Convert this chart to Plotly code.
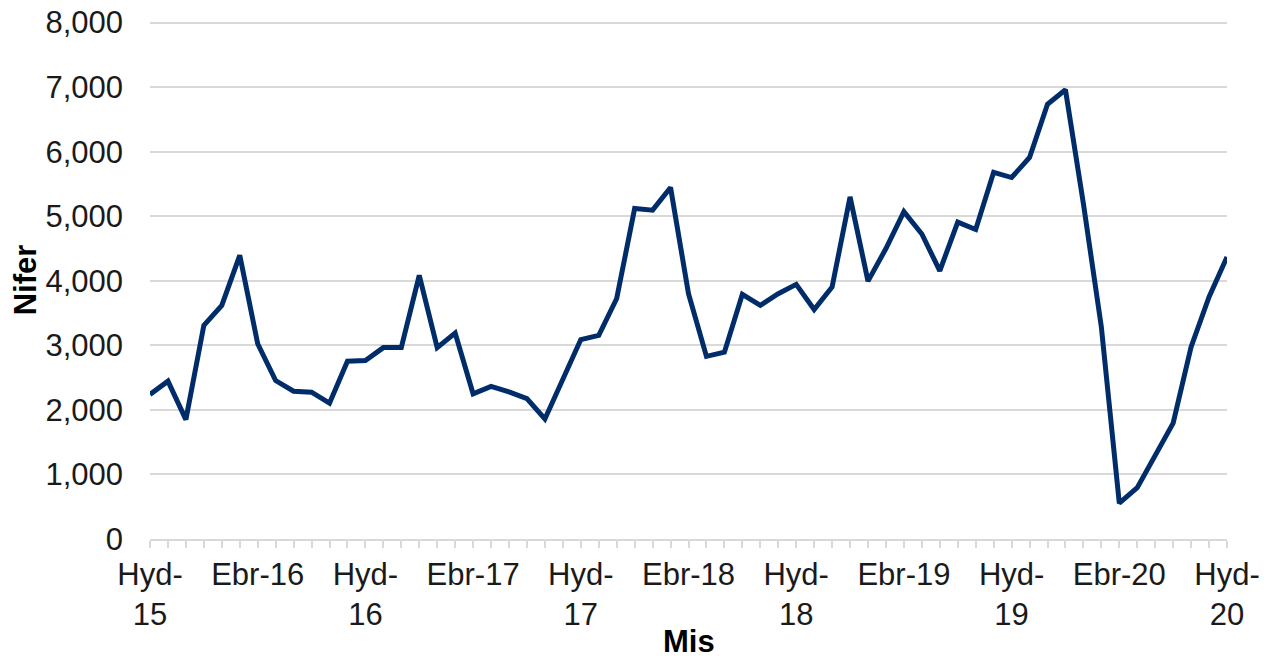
import plotly.graph_objects as go

# Monthly counts, Oct 2015 (Hyd-15) to Oct 2020 (Hyd-20)
months = [
    "Hyd-15", "Tach-15", "Rhag-15", "Ion-16", "Chwe-16", "Maw-16", "Ebr-16", "Mai-16", "Meh-16", "Gor-16", "Awst-16", "Medi-16",
    "Hyd-16", "Tach-16", "Rhag-16", "Ion-17", "Chwe-17", "Maw-17", "Ebr-17", "Mai-17", "Meh-17", "Gor-17", "Awst-17", "Medi-17",
    "Hyd-17", "Tach-17", "Rhag-17", "Ion-18", "Chwe-18", "Maw-18", "Ebr-18", "Mai-18", "Meh-18", "Gor-18", "Awst-18", "Medi-18",
    "Hyd-18", "Tach-18", "Rhag-18", "Ion-19", "Chwe-19", "Maw-19", "Ebr-19", "Mai-19", "Meh-19", "Gor-19", "Awst-19", "Medi-19",
    "Hyd-19", "Tach-19", "Rhag-19", "Ion-20", "Chwe-20", "Maw-20", "Ebr-20", "Mai-20", "Meh-20", "Gor-20", "Awst-20", "Medi-20",
    "Hyd-20",
]
values = [
    2240, 2445, 1850, 3310, 3620, 4395, 3025, 2455, 2290, 2275, 2105, 2755,
    2765, 2965, 2965, 4085, 2965, 3190, 2250, 2365, 2280, 2175, 1860, 2455,
    3090, 3155, 3725, 5120, 5095, 5445, 3800, 2830, 2895, 3790, 3620, 3800,
    3945, 3555, 3905, 5300, 3995, 4500, 5070, 4725, 4155, 4910, 4795, 5680,
    5600, 5910, 6735, 6960, 5195, 3285, 555, 795, 1295, 1795, 2975, 3750,
    4370,
]
tick_labels = ["Hyd-<br>15", "Ebr-16", "Hyd-<br>16", "Ebr-17", "Hyd-<br>17", "Ebr-18",
               "Hyd-<br>18", "Ebr-19", "Hyd-<br>19", "Ebr-20", "Hyd-<br>20"]
y_ticks = [0, 1000, 2000, 3000, 4000, 5000, 6000, 7000, 8000]
x_title = "Mis"
y_title = "Nifer"

x_idx = list(range(len(values)))
tick_positions = [months.index(lbl.replace("<br>", "")) for lbl in tick_labels]

FONT = "Liberation Sans, Arial, sans-serif"
GRID = "#d9d9d9"
TXT = "#1a1a1a"
FS = 31

fig = go.Figure(
    go.Scatter(
        x=x_idx,
        y=values,
        mode="lines",
        line=dict(color="#002D6A", width=5),
        customdata=months,
        hovertemplate="%{customdata}: %{y:,}<extra></extra>",
        cliponaxis=False,
    )
)

# page body has an 8px margin, so the figure is sized to fit the window
fig.update_layout(
    width=1263,
    height=648,
    margin=dict(l=142, r=44, t=13, b=117, autoexpand=False),
    paper_bgcolor="white",
    plot_bgcolor="white",
    showlegend=False,
    font=dict(family=FONT, size=FS, color=TXT),
    annotations=[
        dict(
            text="<b>" + x_title + "</b>",
            xref="paper", yref="paper", x=0.5, y=0,
            xanchor="center", yanchor="top", yshift=-83,
            showarrow=False,
            font=dict(family=FONT, size=FS, color="#000000"),
        )
    ],
)

fig.update_xaxes(
    range=[0, len(values) - 1],
    automargin=False,
    tickmode="array",
    tickvals=tick_positions,
    ticktext=tick_labels,
    ticks="outside",
    ticklen=7,
    tickwidth=1.5,
    tickcolor=GRID,
    showline=True,
    linecolor=GRID,
    linewidth=1.5,
    showgrid=False,
    zeroline=False,
    ticklabeloverflow="allow",
    minor=dict(ticks="outside", ticklen=7, tickwidth=1.5, tickcolor=GRID, dtick=1, tick0=0, showgrid=False),
    tickfont=dict(family=FONT, size=FS, color=TXT),
)

fig.update_yaxes(
    range=[0, 8025],
    automargin=False,
    tickmode="array",
    tickvals=y_ticks,
    tickformat=",d",
    showgrid=True,
    gridcolor=GRID,
    gridwidth=1.5,
    zeroline=False,
    showline=False,
    ticks="",
    ticklabelstandoff=26,
    ticklabeloverflow="allow",
    tickfont=dict(family=FONT, size=FS, color=TXT),
    title=dict(text="<b>" + y_title + "</b>", font=dict(family=FONT, size=FS, color="#000000"), standoff=0),
)

fig.write_html("out.html")
